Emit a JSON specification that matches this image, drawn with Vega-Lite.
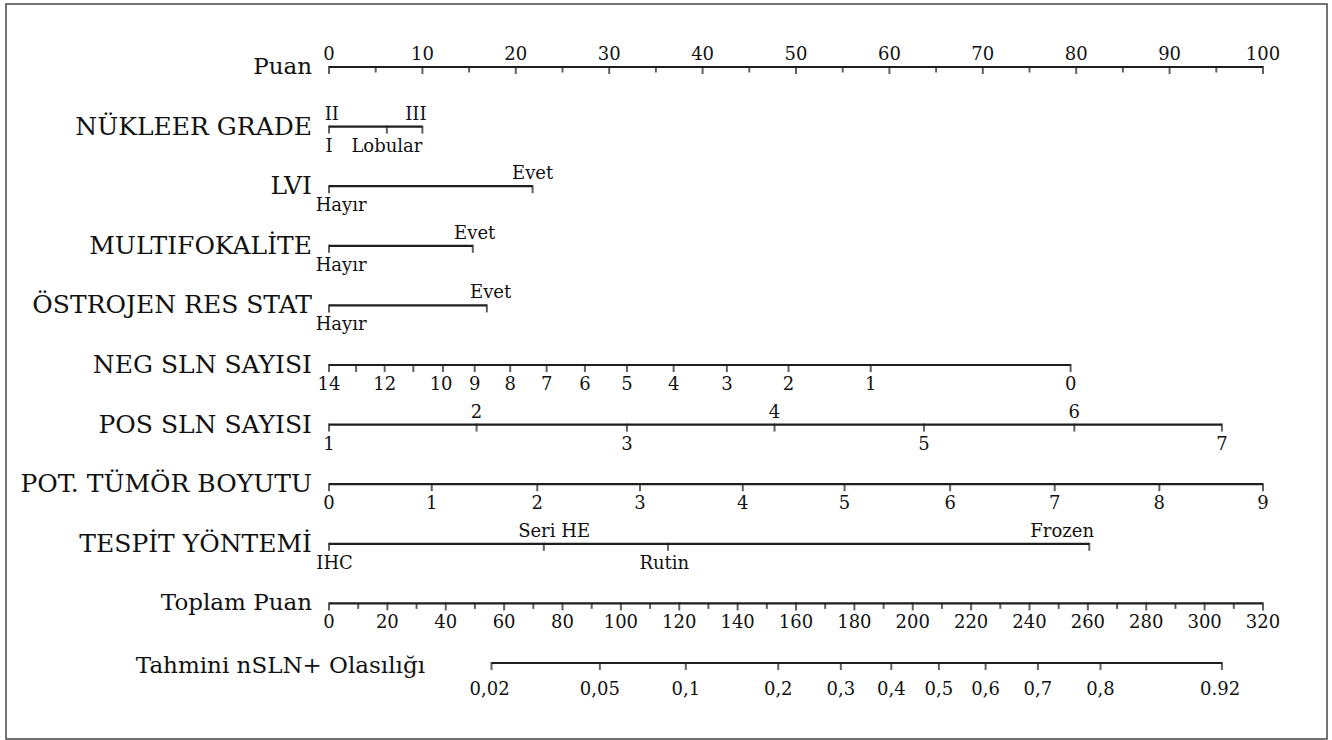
{
  "$schema": "https://vega.github.io/schema/vega-lite/v6.json",
  "autosize": "none",
  "padding": {"left": 6, "top": 4, "right": 5, "bottom": 1},
  "width": 1321,
  "height": 735,
  "background": "white",
  "config": {"view": {"stroke": "#444", "strokeWidth": 1.5}},
  "datasets": {
    "names": [
      {"r": "grade", "t": "NÜKLEER GRADE"},
      {"r": "lvi", "t": "LVI"},
      {"r": "multi", "t": "MULTIFOKALİTE"},
      {"r": "ostro", "t": "ÖSTROJEN RES STAT"},
      {"r": "neg", "t": "NEG SLN SAYISI"},
      {"r": "pos", "t": "POS SLN SAYISI"},
      {"r": "pot", "t": "POT. TÜMÖR BOYUTU"},
      {"r": "tespit", "t": "TESPİT YÖNTEMİ"}
    ],
    "names1": [
      {"r": "puan", "t": "Puan"},
      {"r": "toplam", "t": "Toplam Puan"}
    ],
    "names2": [
      {"r": "tahmin", "t": "Tahmini nSLN+ Olasılığı"}
    ],
    "segs": [
      {"r": "puan", "p": 0, "e": 100},
      {"r": "grade", "p": 0, "e": 10},
      {"r": "lvi", "p": 0, "e": 21.8},
      {"r": "multi", "p": 0, "e": 15.4},
      {"r": "ostro", "p": 0, "e": 16.9},
      {"r": "neg", "p": 0, "e": 79.4},
      {"r": "pos", "p": 0, "e": 95.6},
      {"r": "pot", "p": 0, "e": 100},
      {"r": "tespit", "p": 0, "e": 81.4},
      {"r": "toplam", "p": 0, "e": 100},
      {"r": "tahmin", "p": 17.4, "e": 95.6}
    ],
    "ticks": [
      {"r": "puan", "p": 0, "k": "major"}, {"r": "puan", "p": 5, "k": "minor"},
      {"r": "puan", "p": 10, "k": "major"}, {"r": "puan", "p": 15, "k": "minor"},
      {"r": "puan", "p": 20, "k": "major"}, {"r": "puan", "p": 25, "k": "minor"},
      {"r": "puan", "p": 30, "k": "major"}, {"r": "puan", "p": 35, "k": "minor"},
      {"r": "puan", "p": 40, "k": "major"}, {"r": "puan", "p": 45, "k": "minor"},
      {"r": "puan", "p": 50, "k": "major"}, {"r": "puan", "p": 55, "k": "minor"},
      {"r": "puan", "p": 60, "k": "major"}, {"r": "puan", "p": 65, "k": "minor"},
      {"r": "puan", "p": 70, "k": "major"}, {"r": "puan", "p": 75, "k": "minor"},
      {"r": "puan", "p": 80, "k": "major"}, {"r": "puan", "p": 85, "k": "minor"},
      {"r": "puan", "p": 90, "k": "major"}, {"r": "puan", "p": 95, "k": "minor"},
      {"r": "puan", "p": 100, "k": "major"},
      {"r": "grade", "p": 0, "k": "major"}, {"r": "grade", "p": 6.2, "k": "major"}, {"r": "grade", "p": 10, "k": "major"},
      {"r": "lvi", "p": 0, "k": "major"}, {"r": "lvi", "p": 21.8, "k": "major"},
      {"r": "multi", "p": 0, "k": "major"}, {"r": "multi", "p": 15.4, "k": "major"},
      {"r": "ostro", "p": 0, "k": "major"}, {"r": "ostro", "p": 16.9, "k": "major"},
      {"r": "neg", "p": 0, "k": "major"}, {"r": "neg", "p": 2.9, "k": "major"},
      {"r": "neg", "p": 5.96, "k": "major"}, {"r": "neg", "p": 9.03, "k": "major"},
      {"r": "neg", "p": 12.2, "k": "major"}, {"r": "neg", "p": 15.6, "k": "major"},
      {"r": "neg", "p": 19.4, "k": "major"}, {"r": "neg", "p": 23.3, "k": "major"},
      {"r": "neg", "p": 27.4, "k": "major"}, {"r": "neg", "p": 31.9, "k": "major"},
      {"r": "neg", "p": 36.9, "k": "major"}, {"r": "neg", "p": 42.6, "k": "major"},
      {"r": "neg", "p": 49.2, "k": "major"}, {"r": "neg", "p": 58.0, "k": "major"},
      {"r": "neg", "p": 79.4, "k": "major"},
      {"r": "pos", "p": 0, "k": "major"}, {"r": "pos", "p": 15.8, "k": "major"},
      {"r": "pos", "p": 31.9, "k": "major"}, {"r": "pos", "p": 47.7, "k": "major"},
      {"r": "pos", "p": 63.7, "k": "major"}, {"r": "pos", "p": 79.8, "k": "major"},
      {"r": "pos", "p": 95.6, "k": "major"},
      {"r": "pot", "p": 0, "k": "major"}, {"r": "pot", "p": 11.0, "k": "major"},
      {"r": "pot", "p": 22.3, "k": "major"}, {"r": "pot", "p": 33.3, "k": "major"},
      {"r": "pot", "p": 44.3, "k": "major"}, {"r": "pot", "p": 55.2, "k": "major"},
      {"r": "pot", "p": 66.5, "k": "major"}, {"r": "pot", "p": 77.7, "k": "major"},
      {"r": "pot", "p": 88.9, "k": "major"}, {"r": "pot", "p": 100, "k": "major"},
      {"r": "tespit", "p": 0, "k": "major"}, {"r": "tespit", "p": 23.0, "k": "major"},
      {"r": "tespit", "p": 36.3, "k": "major"}, {"r": "tespit", "p": 81.4, "k": "major"},
      {"r": "toplam", "p": 0, "k": "major"}, {"r": "toplam", "p": 3.125, "k": "minor"},
      {"r": "toplam", "p": 6.25, "k": "major"}, {"r": "toplam", "p": 9.375, "k": "minor"},
      {"r": "toplam", "p": 12.5, "k": "major"}, {"r": "toplam", "p": 15.625, "k": "minor"},
      {"r": "toplam", "p": 18.75, "k": "major"}, {"r": "toplam", "p": 21.875, "k": "minor"},
      {"r": "toplam", "p": 25, "k": "major"}, {"r": "toplam", "p": 28.125, "k": "minor"},
      {"r": "toplam", "p": 31.25, "k": "major"}, {"r": "toplam", "p": 34.375, "k": "minor"},
      {"r": "toplam", "p": 37.5, "k": "major"}, {"r": "toplam", "p": 40.625, "k": "minor"},
      {"r": "toplam", "p": 43.75, "k": "major"}, {"r": "toplam", "p": 46.875, "k": "minor"},
      {"r": "toplam", "p": 50, "k": "major"}, {"r": "toplam", "p": 53.125, "k": "minor"},
      {"r": "toplam", "p": 56.25, "k": "major"}, {"r": "toplam", "p": 59.375, "k": "minor"},
      {"r": "toplam", "p": 62.5, "k": "major"}, {"r": "toplam", "p": 65.625, "k": "minor"},
      {"r": "toplam", "p": 68.75, "k": "major"}, {"r": "toplam", "p": 71.875, "k": "minor"},
      {"r": "toplam", "p": 75, "k": "major"}, {"r": "toplam", "p": 78.125, "k": "minor"},
      {"r": "toplam", "p": 81.25, "k": "major"}, {"r": "toplam", "p": 84.375, "k": "minor"},
      {"r": "toplam", "p": 87.5, "k": "major"}, {"r": "toplam", "p": 90.625, "k": "minor"},
      {"r": "toplam", "p": 93.75, "k": "major"}, {"r": "toplam", "p": 96.875, "k": "minor"},
      {"r": "toplam", "p": 100, "k": "major"},
      {"r": "tahmin", "p": 17.4, "k": "major"}, {"r": "tahmin", "p": 29.0, "k": "major"},
      {"r": "tahmin", "p": 38.2, "k": "major"}, {"r": "tahmin", "p": 48.1, "k": "major"},
      {"r": "tahmin", "p": 54.8, "k": "major"}, {"r": "tahmin", "p": 60.2, "k": "major"},
      {"r": "tahmin", "p": 65.3, "k": "major"}, {"r": "tahmin", "p": 70.3, "k": "major"},
      {"r": "tahmin", "p": 75.9, "k": "major"}, {"r": "tahmin", "p": 82.6, "k": "major"},
      {"r": "tahmin", "p": 95.6, "k": "major"}
    ],
    "labels": [
      {"r": "puan", "p": 0, "t": "0", "s": "above"}, {"r": "puan", "p": 10, "t": "10", "s": "above"},
      {"r": "puan", "p": 20, "t": "20", "s": "above"}, {"r": "puan", "p": 30, "t": "30", "s": "above"},
      {"r": "puan", "p": 40, "t": "40", "s": "above"}, {"r": "puan", "p": 50, "t": "50", "s": "above"},
      {"r": "puan", "p": 60, "t": "60", "s": "above"}, {"r": "puan", "p": 70, "t": "70", "s": "above"},
      {"r": "puan", "p": 80, "t": "80", "s": "above"}, {"r": "puan", "p": 90, "t": "90", "s": "above"},
      {"r": "puan", "p": 100, "t": "100", "s": "above"},
      {"r": "grade", "p": 0.3, "t": "II", "s": "above"}, {"r": "grade", "p": 9.3, "t": "III", "s": "above"},
      {"r": "grade", "p": 0, "t": "I", "s": "below"}, {"r": "grade", "p": 6.2, "t": "Lobular", "s": "below"},
      {"r": "lvi", "p": 1.3, "t": "Hayır", "s": "below"}, {"r": "lvi", "p": 21.8, "t": "Evet", "s": "above"},
      {"r": "multi", "p": 1.3, "t": "Hayır", "s": "below"}, {"r": "multi", "p": 15.6, "t": "Evet", "s": "above"},
      {"r": "ostro", "p": 1.3, "t": "Hayır", "s": "below"}, {"r": "ostro", "p": 17.3, "t": "Evet", "s": "above"},
      {"r": "neg", "p": 0, "t": "14", "s": "below"}, {"r": "neg", "p": 5.96, "t": "12", "s": "below"},
      {"r": "neg", "p": 12.0, "t": "10", "s": "below"}, {"r": "neg", "p": 15.6, "t": "9", "s": "below"},
      {"r": "neg", "p": 19.4, "t": "8", "s": "below"}, {"r": "neg", "p": 23.3, "t": "7", "s": "below"},
      {"r": "neg", "p": 27.4, "t": "6", "s": "below"}, {"r": "neg", "p": 31.9, "t": "5", "s": "below"},
      {"r": "neg", "p": 36.9, "t": "4", "s": "below"}, {"r": "neg", "p": 42.6, "t": "3", "s": "below"},
      {"r": "neg", "p": 49.2, "t": "2", "s": "below"}, {"r": "neg", "p": 58.0, "t": "1", "s": "below"},
      {"r": "neg", "p": 79.4, "t": "0", "s": "below"},
      {"r": "pos", "p": 0, "t": "1", "s": "below"}, {"r": "pos", "p": 15.8, "t": "2", "s": "above"},
      {"r": "pos", "p": 31.9, "t": "3", "s": "below"}, {"r": "pos", "p": 47.7, "t": "4", "s": "above"},
      {"r": "pos", "p": 63.7, "t": "5", "s": "below"}, {"r": "pos", "p": 79.8, "t": "6", "s": "above"},
      {"r": "pos", "p": 95.6, "t": "7", "s": "below"},
      {"r": "pot", "p": 0, "t": "0", "s": "below"}, {"r": "pot", "p": 11.0, "t": "1", "s": "below"},
      {"r": "pot", "p": 22.3, "t": "2", "s": "below"}, {"r": "pot", "p": 33.3, "t": "3", "s": "below"},
      {"r": "pot", "p": 44.3, "t": "4", "s": "below"}, {"r": "pot", "p": 55.2, "t": "5", "s": "below"},
      {"r": "pot", "p": 66.5, "t": "6", "s": "below"}, {"r": "pot", "p": 77.7, "t": "7", "s": "below"},
      {"r": "pot", "p": 88.9, "t": "8", "s": "below"}, {"r": "pot", "p": 100, "t": "9", "s": "below"},
      {"r": "tespit", "p": 0.6, "t": "IHC", "s": "below"}, {"r": "tespit", "p": 24.1, "t": "Seri HE", "s": "above"},
      {"r": "tespit", "p": 35.9, "t": "Rutin", "s": "below"}, {"r": "tespit", "p": 78.5, "t": "Frozen", "s": "above"},
      {"r": "toplam", "p": 0, "t": "0", "s": "below"}, {"r": "toplam", "p": 6.25, "t": "20", "s": "below"},
      {"r": "toplam", "p": 12.5, "t": "40", "s": "below"}, {"r": "toplam", "p": 18.75, "t": "60", "s": "below"},
      {"r": "toplam", "p": 25, "t": "80", "s": "below"}, {"r": "toplam", "p": 31.25, "t": "100", "s": "below"},
      {"r": "toplam", "p": 37.5, "t": "120", "s": "below"}, {"r": "toplam", "p": 43.75, "t": "140", "s": "below"},
      {"r": "toplam", "p": 50, "t": "160", "s": "below"}, {"r": "toplam", "p": 56.25, "t": "180", "s": "below"},
      {"r": "toplam", "p": 62.5, "t": "200", "s": "below"}, {"r": "toplam", "p": 68.75, "t": "220", "s": "below"},
      {"r": "toplam", "p": 75, "t": "240", "s": "below"}, {"r": "toplam", "p": 81.25, "t": "260", "s": "below"},
      {"r": "toplam", "p": 87.5, "t": "280", "s": "below"}, {"r": "toplam", "p": 93.75, "t": "300", "s": "below"},
      {"r": "toplam", "p": 100, "t": "320", "s": "below"},
      {"r": "tahmin", "p": 17.2, "t": "0,02", "s": "low"}, {"r": "tahmin", "p": 29.0, "t": "0,05", "s": "low"},
      {"r": "tahmin", "p": 38.2, "t": "0,1", "s": "low"}, {"r": "tahmin", "p": 48.1, "t": "0,2", "s": "low"},
      {"r": "tahmin", "p": 54.8, "t": "0,3", "s": "low"}, {"r": "tahmin", "p": 60.2, "t": "0,4", "s": "low"},
      {"r": "tahmin", "p": 65.3, "t": "0,5", "s": "low"}, {"r": "tahmin", "p": 70.3, "t": "0,6", "s": "low"},
      {"r": "tahmin", "p": 75.9, "t": "0,7", "s": "low"}, {"r": "tahmin", "p": 82.6, "t": "0,8", "s": "low"},
      {"r": "tahmin", "p": 95.4, "t": "0.92", "s": "low"}
    ]
  },
  "encoding": {
    "y": {
      "field": "r",
      "type": "nominal",
      "scale": {
        "type": "point",
        "padding": 0,
        "domain": ["puan", "grade", "lvi", "multi", "ostro", "neg", "pos", "pot", "tespit", "toplam", "tahmin"],
        "range": [63, 659]
      },
      "axis": null
    }
  },
  "layer": [
    {
      "data": {"name": "segs"},
      "mark": {"type": "rule", "strokeWidth": 2.2, "color": "#1e1e1e"},
      "encoding": {
        "x": {"field": "p", "type": "quantitative", "scale": {"domain": [0, 100], "range": [323, 1257]}, "axis": null},
        "x2": {"field": "e"}
      }
    },
    {
      "data": {"name": "ticks"},
      "mark": {"type": "tick", "orient": "vertical", "thickness": 2, "color": "#1e1e1e", "yOffset": 3},
      "encoding": {
        "x": {"field": "p", "type": "quantitative"},
        "size": {"field": "k", "type": "nominal", "scale": {"domain": ["major", "minor"], "range": [8, 5]}, "legend": null}
      }
    },
    {
      "data": {"name": "labels"},
      "transform": [{"filter": "datum.s === 'above'"}],
      "mark": {"type": "text", "font": "DejaVu Serif, serif", "color": "#111", "fontSize": 18, "baseline": "alphabetic", "align": "center", "dy": -7},
      "encoding": {
        "x": {"field": "p", "type": "quantitative"},
        "text": {"field": "t"}
      }
    },
    {
      "data": {"name": "labels"},
      "transform": [{"filter": "datum.s === 'below'"}],
      "mark": {"type": "text", "font": "DejaVu Serif, serif", "color": "#111", "fontSize": 18, "baseline": "alphabetic", "align": "center", "dy": 25},
      "encoding": {
        "x": {"field": "p", "type": "quantitative"},
        "text": {"field": "t"}
      }
    },
    {
      "data": {"name": "labels"},
      "transform": [{"filter": "datum.s === 'low'"}],
      "mark": {"type": "text", "font": "DejaVu Serif, serif", "color": "#111", "fontSize": 18, "baseline": "alphabetic", "align": "center", "dy": 32},
      "encoding": {
        "x": {"field": "p", "type": "quantitative"},
        "text": {"field": "t"}
      }
    },
    {
      "data": {"name": "names"},
      "mark": {"type": "text", "font": "DejaVu Serif, serif", "color": "#111", "fontSize": 25, "baseline": "alphabetic", "align": "right", "dx": -17, "dy": 8},
      "encoding": {
        "x": {"datum": 0, "type": "quantitative"},
        "text": {"field": "t"}
      }
    },
    {
      "data": {"name": "names1"},
      "mark": {"type": "text", "font": "DejaVu Serif, serif", "color": "#111", "fontSize": 23, "baseline": "alphabetic", "align": "right", "dx": -17, "dy": 7},
      "encoding": {
        "x": {"datum": 0, "type": "quantitative"},
        "text": {"field": "t"}
      }
    },
    {
      "data": {"name": "names2"},
      "mark": {"type": "text", "font": "DejaVu Serif, serif", "color": "#111", "fontSize": 23, "baseline": "alphabetic", "align": "right", "dx": 96, "dy": 10},
      "encoding": {
        "x": {"datum": 0, "type": "quantitative"},
        "text": {"field": "t"}
      }
    }
  ]
}
